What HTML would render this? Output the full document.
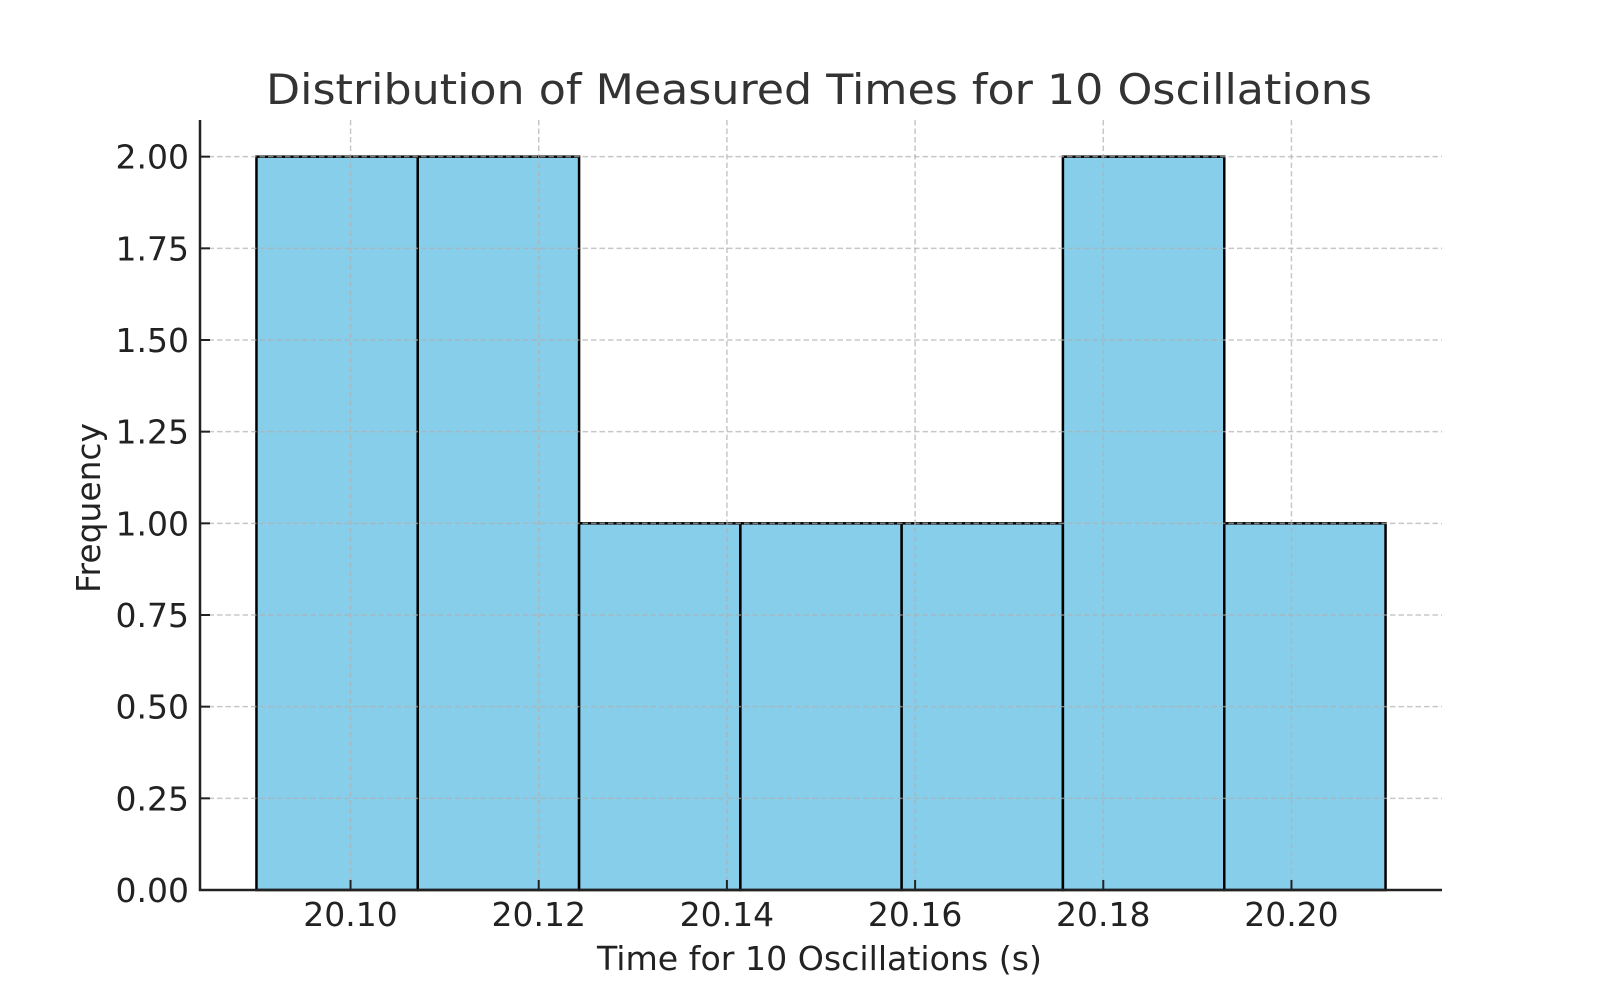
<!DOCTYPE html>
<html><head><meta charset="utf-8"><style>
html,body{margin:0;padding:0;background:#fff;}
svg{display:block;font-family:"DejaVu Sans","Liberation Sans",sans-serif;}
</style></head><body>
<svg id="chart" width="1600" height="1000" viewBox="0 0 1600 1000" xmlns="http://www.w3.org/2000/svg">
<rect width="1600" height="1000" fill="#fff"/>
<text x="819" y="104" font-size="42" fill="#333" text-anchor="middle" textLength="1106" lengthAdjust="spacingAndGlyphs">Distribution of Measured Times for 10 Oscillations</text>
<g id="bars"></g>
<g id="grid"></g>
<g id="axes"></g>
<text x="819.5" y="970" font-size="33" fill="#222" text-anchor="middle" textLength="445" lengthAdjust="spacingAndGlyphs">Time for 10 Oscillations (s)</text>
<text transform="translate(100,508) rotate(-90)" x="0" y="0" font-size="33" fill="#222" text-anchor="middle" textLength="170" lengthAdjust="spacingAndGlyphs">Frequency</text>
</svg>
<script>
const binEdges = [20.09, 20.10714, 20.12429, 20.14143, 20.15857, 20.17571, 20.19286, 20.21];
const counts = [2, 2, 1, 1, 1, 2, 1];
const xTicks = [20.10, 20.12, 20.14, 20.16, 20.18, 20.20];
const xTickLabels = ["20.10", "20.12", "20.14", "20.16", "20.18", "20.20"];
const yTicks = [0, 0.25, 0.5, 0.75, 1, 1.25, 1.5, 1.75, 2];
const yTickLabels = ["0.00", "0.25", "0.50", "0.75", "1.00", "1.25", "1.50", "1.75", "2.00"];

const L = 200, R = 1442, T = 120, B = 890;
const xMin = 20.084, xMax = 20.216, yMin = 0, yMax = 2.1;
function xs(v){ return L + (v - xMin) / (xMax - xMin) * (R - L); }
function ys(v){ return B - (v - yMin) / (yMax - yMin) * (B - T); }
const NS = "http://www.w3.org/2000/svg";
function mk(tag, attrs, parent){ const e = document.createElementNS(NS, tag); for (const k in attrs) e.setAttribute(k, attrs[k]); parent.appendChild(e); return e; }

const gBars = document.getElementById('bars');
for (let i = 0; i < counts.length; i++) {
  const x0 = xs(binEdges[i]), x1 = xs(binEdges[i+1]);
  const r = mk('rect', {x: x0, y: ys(counts[i]), width: x1 - x0, height: ys(0) - ys(counts[i]), fill: '#87ceeb', stroke: '#000', 'stroke-width': 2.5}, gBars);
  
  
}

const gGrid = document.getElementById('grid');
xTicks.forEach((v, i) => {
  const l = mk('line', {x1: xs(v), x2: xs(v), y1: T, y2: B, stroke: '#b0b0b0', 'stroke-opacity': 0.7, 'stroke-width': 1.5, 'stroke-dasharray': '5.5,3'}, gGrid);
  
  
});
yTicks.forEach((v, i) => {
  const l = mk('line', {x1: L, x2: R, y1: ys(v), y2: ys(v), stroke: '#b0b0b0', 'stroke-opacity': 0.7, 'stroke-width': 1.5, 'stroke-dasharray': '5.5,3'}, gGrid);
  
  
});

const gAx = document.getElementById('axes');
const yAxis = mk('line', {x1: L, x2: L, y1: T, y2: B + 1, stroke: '#222', 'stroke-width': 2.5}, gAx);


const xAxis = mk('line', {x1: L - 1, x2: R, y1: B, y2: B, stroke: '#222', 'stroke-width': 2.5}, gAx);



xTicks.forEach((v, i) => {
  const t = mk('line', {x1: xs(v), x2: xs(v), y1: B, y2: B - 10, stroke: '#222', 'stroke-width': 2}, gAx);
  
  
  const tx = mk('text', {x: xs(v), y: 926, 'font-size': 33, fill: '#222', 'text-anchor': 'middle'}, gAx);
  tx.textContent = xTickLabels[i];
  
  
});
yTicks.forEach((v, i) => {
  const t = mk('line', {x1: L, x2: L + 10, y1: ys(v), y2: ys(v), stroke: '#222', 'stroke-width': 2}, gAx);
  
  
  const tx = mk('text', {x: 189, y: ys(v) + 12, 'font-size': 33, fill: '#222', 'text-anchor': 'end'}, gAx);
  tx.textContent = yTickLabels[i];
  
  
});
</script>
</body></html>
